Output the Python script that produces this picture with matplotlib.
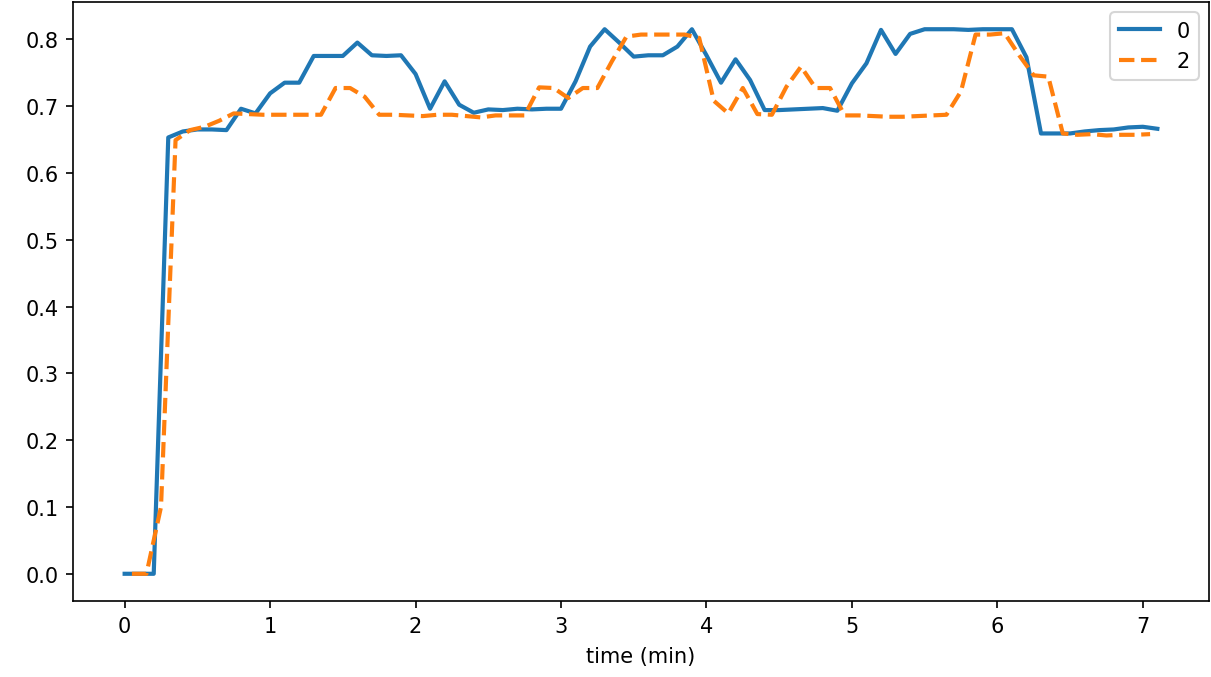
import matplotlib
matplotlib.use("Agg")
import matplotlib.pyplot as plt

time_0 = [0.0, 0.1, 0.2, 0.3, 0.4, 0.5, 0.6, 0.7, 0.8, 0.9,
          1.0, 1.1, 1.2, 1.3, 1.4, 1.5, 1.6, 1.7, 1.8, 1.9,
          2.0, 2.1, 2.2, 2.3, 2.4, 2.5, 2.6, 2.7, 2.8, 2.9,
          3.0, 3.1, 3.2, 3.3, 3.4, 3.5, 3.6, 3.7, 3.8, 3.9,
          4.0, 4.1, 4.2, 4.3, 4.4, 4.5, 4.6, 4.7, 4.8, 4.9,
          5.0, 5.1, 5.2, 5.3, 5.4, 5.5, 5.6, 5.7, 5.8, 5.9,
          6.0, 6.1, 6.2, 6.3, 6.4, 6.5, 6.6, 6.7, 6.8, 6.9,
          7.0, 7.1]
series_0 = [0.0, 0.0, 0.0, 0.653, 0.662, 0.665, 0.665, 0.664, 0.696, 0.689,
            0.719, 0.735, 0.735, 0.775, 0.775, 0.775, 0.795, 0.776, 0.775, 0.776,
            0.748, 0.696, 0.737, 0.702, 0.690, 0.695, 0.694, 0.696, 0.695, 0.696,
            0.696, 0.737, 0.789, 0.815, 0.795, 0.774, 0.776, 0.776, 0.789, 0.815,
            0.776, 0.735, 0.770, 0.739, 0.694, 0.694, 0.695, 0.696, 0.697, 0.693,
            0.734, 0.764, 0.814, 0.778, 0.808, 0.815, 0.815, 0.815, 0.814, 0.815,
            0.815, 0.815, 0.773, 0.659, 0.659, 0.659, 0.662, 0.664, 0.665, 0.668,
            0.669, 0.666]

time_2 = [0.05, 0.15, 0.25, 0.35, 0.45, 0.55, 0.65, 0.75, 0.85, 0.95,
          1.05, 1.15, 1.25, 1.35, 1.45, 1.55, 1.65, 1.75, 1.85, 1.95,
          2.05, 2.15, 2.25, 2.35, 2.45, 2.55, 2.65, 2.75, 2.85, 2.95,
          3.05, 3.15, 3.25, 3.35, 3.45, 3.55, 3.65, 3.75, 3.85, 3.95,
          4.05, 4.15, 4.25, 4.35, 4.45, 4.55, 4.65, 4.75, 4.85, 4.95,
          5.05, 5.15, 5.25, 5.35, 5.45, 5.55, 5.65, 5.75, 5.85, 5.95,
          6.05, 6.15, 6.25, 6.35, 6.45, 6.55, 6.65, 6.75, 6.85, 6.95,
          7.05]
series_2 = [0.0, 0.0, 0.10, 0.649, 0.664, 0.669, 0.678, 0.689, 0.688, 0.687,
            0.687, 0.687, 0.687, 0.687, 0.727, 0.727, 0.714, 0.687, 0.687, 0.686,
            0.685, 0.687, 0.687, 0.685, 0.683, 0.686, 0.686, 0.686, 0.728, 0.727,
            0.712, 0.727, 0.727, 0.767, 0.804, 0.807, 0.807, 0.807, 0.807, 0.802,
            0.708, 0.689, 0.727, 0.688, 0.687, 0.729, 0.759, 0.727, 0.727, 0.686,
            0.686, 0.685, 0.684, 0.684, 0.685, 0.686, 0.687, 0.722, 0.807, 0.807,
            0.809, 0.776, 0.746, 0.744, 0.659, 0.657, 0.658, 0.656, 0.657, 0.657,
            0.658]

labels = ["0", "2"]

W, H, DPI = 1211, 678, 150
fig = plt.figure(figsize=(W / DPI, H / DPI), dpi=DPI)
ax = fig.add_axes([73 / W, (H - 602) / H, (1209 - 73) / W, (602 - 3) / H])
ax.plot(time_0, series_0, color="#1f77b4", linestyle="-", linewidth=2, label=labels[0])
ax.plot(time_2, series_2, color="#ff7f0e", linestyle="--", linewidth=2, label=labels[1])
ax.set_xlabel("time (min)", labelpad=5)
ax.legend(loc="upper right")
fig.savefig("out.png", dpi=DPI)
